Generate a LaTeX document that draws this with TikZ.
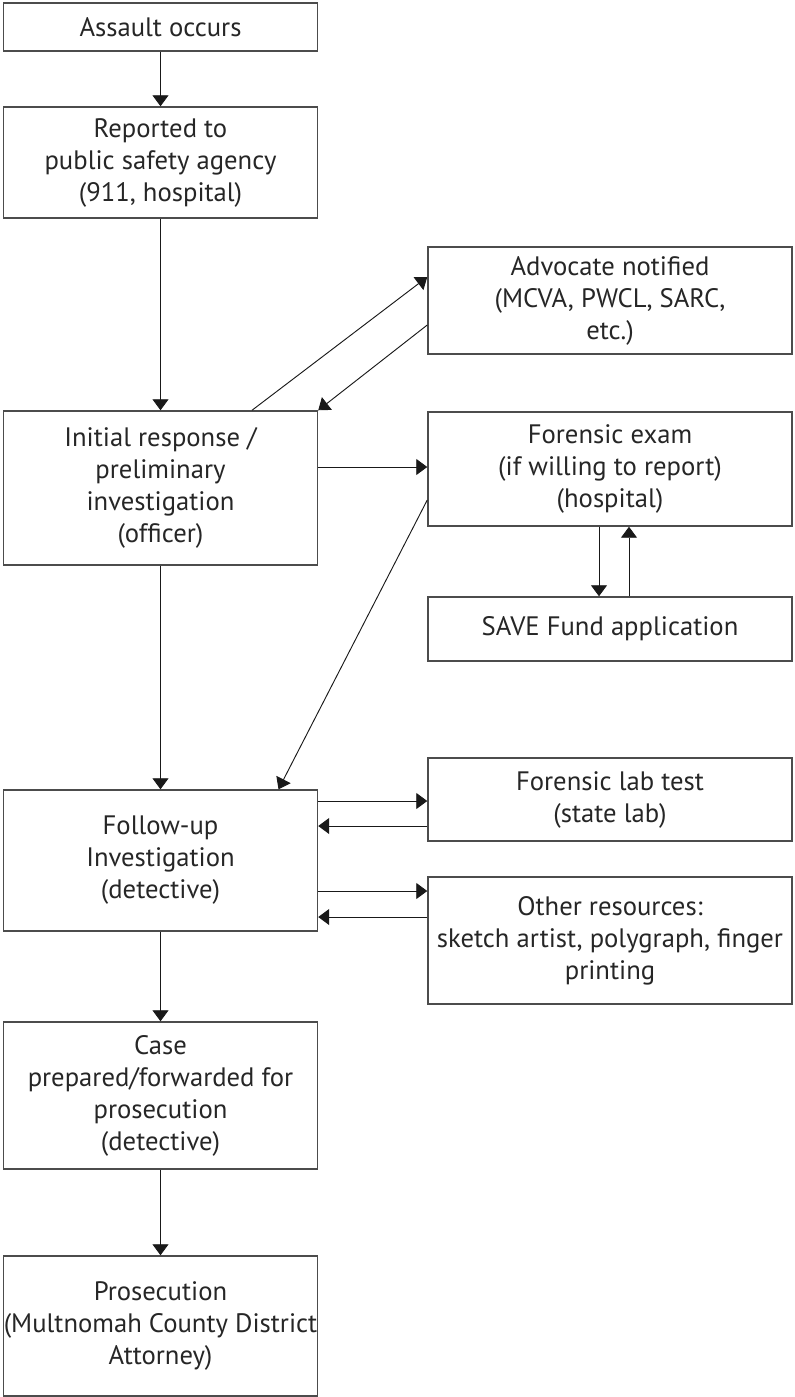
\documentclass[tikz,border=0pt]{standalone}
\usepackage{fontspec}
\setmainfont{PT Sans}
\usetikzlibrary{arrows.meta, calc}

\begin{document}
\begin{tikzpicture}[
  x=0.75pt, y=-0.75pt,
  every node/.style={font=\fontsize{20}{24}\selectfont, text=black!85},
  box/.style={rectangle, draw=black!70, line width=1.1pt, align=center, inner xsep=0pt, inner ysep=0pt},
  lbox/.style={box, minimum width=235.5pt},
  rbox/.style={box, minimum width=273pt},
  arr/.style={-{Triangle[length=8.25pt, width=12pt]}, line width=0.7pt, black!90}
]
\useasboundingbox (0,0) rectangle (794,1397);

% Nodes, left column
\node[lbox, minimum height=36pt]     (assault)     at (160.5,27)     {Assault occurs};
\node[lbox, minimum height=83.25pt]  (reported)    at (160.5,162.5)  {Reported to\\public safety agency\\(911, hospital)};
\node[lbox, minimum height=115.5pt]  (initial)     at (160.5,488)    {Initial response /\\preliminary\\investigation\\(officer)};
\node[lbox, minimum height=105.75pt] (followup)    at (160.5,860.5)  {Follow-up\\Investigation\\(detective)};
\node[lbox, minimum height=110.25pt] (case)        at (160.5,1095.5) {Case\\prepared/forwarded for\\prosecution\\(detective)};
\node[lbox, minimum height=105pt]    (prosecution) at (160.5,1326)   {Prosecution\\(Multnomah County District\\Attorney)};

% Nodes, right column
\node[rbox, minimum height=80.25pt]  (advocate) at (610,300.5) {Advocate notified\\(MCVA, PWCL, SARC,\\etc.)};
\node[rbox, minimum height=85.5pt]   (exam)     at (610,469)   {Forensic exam\\(if willing to report)\\(hospital)};
\node[rbox, minimum height=48pt]     (save)     at (610,629)   {SAVE Fund application};
\node[rbox, minimum height=62.25pt]  (lab)      at (610,799.5) {Forensic lab test\\(state lab)};
\node[rbox, minimum height=95.25pt]  (other)    at (610,940.5) {Other resources:\\sketch artist, polygraph, finger\\printing};

% Main chain
\draw[arr] (assault) -- (reported);
\draw[arr] (reported) -- (initial);
\draw[arr] (initial) -- (followup);
\draw[arr] (followup) -- (case);
\draw[arr] (case) -- (prosecution);

% Advocate
\draw[arr] ($(initial.north)+(91.5,0)$) -- ($(advocate.west)+(0,-23.5)$);
\draw[arr] ($(advocate.west)+(0,24.5)$) -- (initial.north east);

% Forensic exam and SAVE
\draw[arr] ($(initial.east)+(0,-21)$) -- ($(exam.west)+(0,-2)$);
\draw[arr] ($(exam.south)+(-11,0)$) -- ($(save.north)+(-11,0)$);
\draw[arr] ($(save.north)+(19,0)$) -- ($(exam.south)+(19,0)$);
\draw[arr] ($(exam.west)+(0,31)$) -- ($(followup.north)+(118,0)$);

% Lab and other resources
\draw[arr] ($(followup.east)+(0,-59.5)$) -- ($(lab.west)+(0,1.5)$);
\draw[arr] ($(lab.west)+(0,26.5)$) -- ($(followup.east)+(0,-34.5)$);
\draw[arr] ($(followup.east)+(0,30.5)$) -- ($(other.west)+(0,-49.5)$);
\draw[arr] ($(other.west)+(0,-23.5)$) -- ($(followup.east)+(0,56.5)$);

\end{tikzpicture}
\end{document}
